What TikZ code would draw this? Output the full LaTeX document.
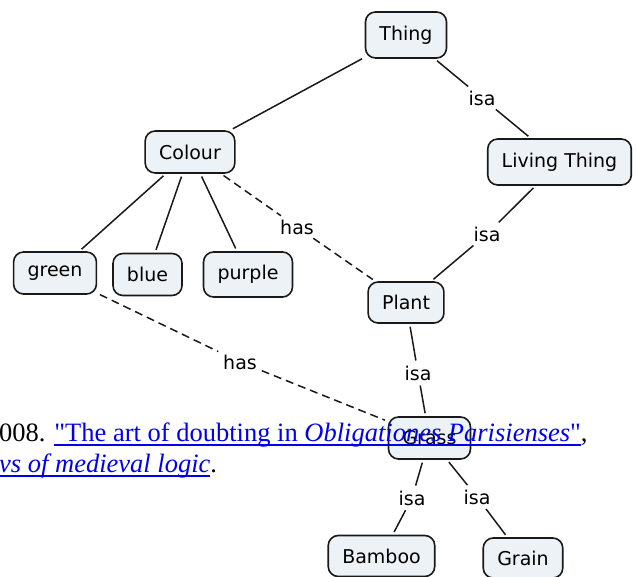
\documentclass[tikz,border=0pt]{standalone}
\usepackage{fontspec}
\setmainfont{DejaVu Sans}
\newfontfamily\citefont{Liberation Serif}
\usepackage{tikz}

\definecolor{nodefill}{RGB}{236,242,245}
\definecolor{nodeline}{RGB}{25,25,25}
\definecolor{linkblue}{RGB}{0,0,238}

% underlined hyperlink look
\newcommand\linktext[1]{{\color{linkblue}\setbox0\hbox{#1}\rlap{\rule[-4pt]{\wd0}{1.8pt}}\box0}}

\tikzset{
	concept/.style={draw=nodeline, fill=nodefill, rounded corners=10pt, line width=1.6pt,
		minimum height=42pt, inner xsep=14pt, font=\fontsize{19}{22}\selectfont},
	lbl/.style={inner sep=2pt, font=\fontsize{19}{22}\selectfont},
	link/.style={draw=nodeline, line width=1.5pt, shorten <=3pt, shorten >=3pt},
	haslink/.style={link, dash pattern=on 8pt off 5pt}
}

\begin{document}
\begin{tikzpicture}[x=1pt, y=-1pt]
	
	\useasboundingbox (0,0) rectangle (636,577);
	
	% Concepts
	\node[concept, minimum height=46pt] (thing) at (406,35) {Thing};
	\node[concept, minimum height=46pt] (living) at (559.5,162) {Living Thing};
	\node[concept] (colour) at (190,152) {Colour};
	\node[concept] (green) at (55,273) {green};
	\node[concept] (blue) at (147.5,274.5) {blue};
	\node[concept, minimum height=45pt] (purple) at (248,274.5) {purple};
	\node[concept, minimum height=41pt] (plant) at (406,302.5) {Plant};
	\node[concept] (grass) at (429.5,438) {Grass};
	\node[concept, minimum height=41pt] (bamboo) at (381.5,556) {Bamboo};
	\node[concept, minimum height=40pt] (grain) at (523,558) {Grain};
	
	% Linking phrases
	\node[lbl] (isaA) at (482,98) {isa};
	\node[lbl] (isaB) at (487,234) {isa};
	\node[lbl] (hasA) at (297,227) {has};
	\node[lbl] (isaC) at (418,373) {isa};
	\node[lbl] (hasB) at (240,362) {has};
	\node[lbl] (isaD) at (412,498) {isa};
	\node[lbl] (isaE) at (477,497) {isa};
	
	% Links
	\draw[link] (thing) -- (colour);
	\draw[link] (colour) -- (green);
	\draw[link] (colour) -- (blue);
	\draw[link] (colour) -- (purple);
	\draw[link] (thing) -- (isaA);
	\draw[link] (isaA) -- (living);
	\draw[link] (living) -- (isaB);
	\draw[link] (isaB) -- (plant);
	\draw[haslink] (colour) -- (hasA);
	\draw[haslink] (hasA) -- (plant);
	\draw[link] (plant) -- (isaC);
	\draw[link] (isaC) -- (grass);
	\draw[haslink] (green) -- (hasB);
	\draw[haslink] (hasB) -- (grass);
	\draw[link] (grass) -- (isaD);
	\draw[link] (isaD) -- (bamboo);
	\draw[link] (grass) -- (isaE);
	\draw[link] (isaE) -- (grain);
	
	% Citation text lying over the map
	\node[inner sep=0pt, anchor=base west, font=\citefont\fontsize{26.5}{30}\selectfont] (citeA) at (-1,441.7)
		{008. \linktext{"The art of doubting in \textit{Obligationes Parisienses}"},};
	\node[inner sep=0pt, anchor=base west, font=\citefont\fontsize{26.5}{30}\selectfont] (citeB) at (-1,472.7)
		{\linktext{\textit{vs of medieval logic}}.};
	
\end{tikzpicture}
\end{document}
